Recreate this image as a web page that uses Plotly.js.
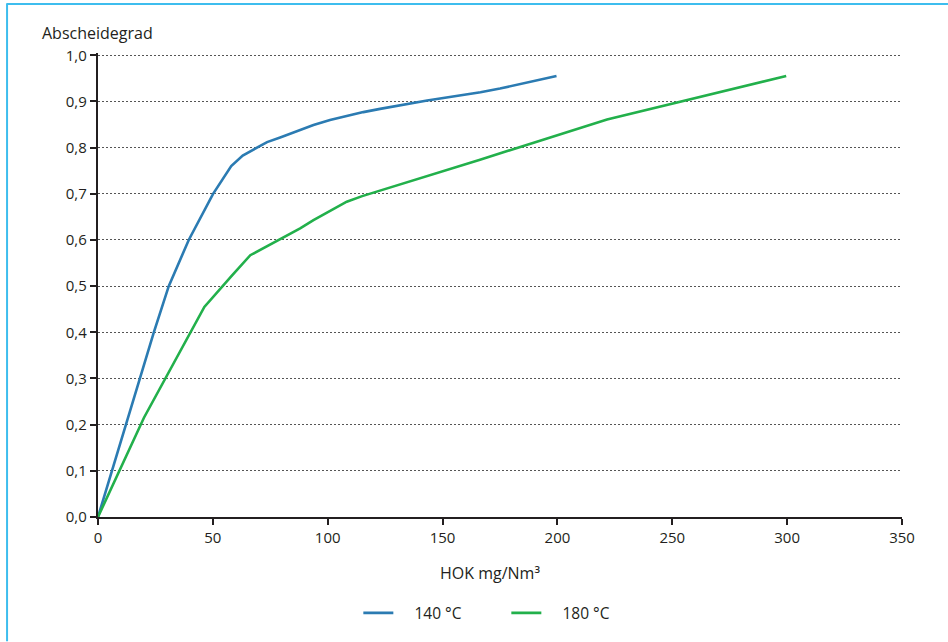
<!DOCTYPE html>
<html>
<head>
<meta charset="utf-8">
<script src="https://cdn.plot.ly/plotly-3.0.1.min.js"></script>
<style>html,body{margin:0;padding:0;background:#fff;}#chart{width:948px;height:642px;}</style>
</head>
<body>
<div id="chart"></div>
<script>
// Data
const seriesNames = ["140 °C", "180 °C"];
const x140 = [0, 24.3, 30.8, 39.5, 50.1, 58, 63, 69.2, 73.6, 79.3, 88, 93.8, 101, 108.3, 115.5, 122.8, 143.3, 166.5, 175, 199.6];
const y140 = [0, 0.40, 0.50, 0.60, 0.70, 0.76, 0.783, 0.80, 0.812, 0.822, 0.838, 0.849, 0.860, 0.869, 0.877, 0.884, 0.902, 0.920, 0.928, 0.955];
const x180 = [0, 20, 46.3, 54, 57.8, 66.3, 78.6, 88, 93.8, 108.3, 115, 166.3, 221.6, 299.6];
const y180 = [0, 0.215, 0.455, 0.50, 0.52, 0.567, 0.60, 0.625, 0.643, 0.683, 0.695, 0.774, 0.861, 0.955];
const yTicks = [0, 0.1, 0.2, 0.3, 0.4, 0.5, 0.6, 0.7, 0.8, 0.9, 1.0];
const xTicks = [0, 50, 100, 150, 200, 250, 300, 350];
const yTitle = "Abscheidegrad";
const xTitle = "HOK mg/Nm³";

const FONT = "Open Sans, Noto Sans, sans-serif";
const TXT = "#231f20";
const W = 948, H = 642;
const YMAX = 1.005;
const L = 97.5, R = 902, B = 517.5, T = 55 - (YMAX - 1) * 462.5;
const px = v => (v - L) / (R - L);
const py = v => (B - v) / (B - T);

const traces = [
  {x: x140, y: y140, name: "\u00a0\u00a0\u00a0\u00a0" + seriesNames[0], type: "scatter", mode: "lines",
   line: {color: "#2b7bb2", width: 2.6}},
  {x: x180, y: y180, name: "\u00a0\u00a0\u00a0\u00a0" + seriesNames[1], type: "scatter", mode: "lines",
   line: {color: "#22b04b", width: 2.6}}
];

const layout = {
  width: W, height: H,
  margin: {l: L, r: W - R, t: T, b: H - B},
  paper_bgcolor: "#fff", plot_bgcolor: "#fff",
  font: {family: FONT, size: 15, color: TXT},
  separators: ",.",
  showlegend: true,
  legend: {orientation: "h", x: px(358), xanchor: "left", y: py(614), yanchor: "middle",
           font: {family: FONT, size: 15.5, color: TXT}, entrywidth: 103, entrywidthmode: "pixels",
           bgcolor: "rgba(0,0,0,0)"},
  xaxis: {range: [0, 350], tickvals: xTicks, ticktext: xTicks.map(String),
          showgrid: false, zeroline: false, showline: true, linecolor: TXT, linewidth: 2.2,
          ticks: "outside", ticklen: 6, tickwidth: 2, tickcolor: TXT,
          tickfont: {family: FONT, size: 15, color: TXT}, fixedrange: true},
  yaxis: {range: [0, YMAX], tickvals: yTicks, tickformat: ".1f",
          showgrid: true, gridcolor: "#555", gridwidth: 1, griddash: "2px,2px",
          zeroline: false, showline: true, linecolor: TXT, linewidth: 2.2,
          ticks: "outside", ticklen: 6, tickwidth: 2, tickcolor: TXT,
          tickfont: {family: FONT, size: 15, color: TXT}, fixedrange: true},
  annotations: [
    {text: yTitle, xref: "paper", yref: "paper", x: px(39), y: py(33), xanchor: "left", yanchor: "middle",
     showarrow: false, font: {family: FONT, size: 16, color: TXT}},
    {text: xTitle, xref: "paper", yref: "paper", x: px(490), y: py(574), xanchor: "center", yanchor: "middle",
     showarrow: false, font: {family: FONT, size: 16, color: TXT}}
  ],
  shapes: [
    {type: "line", xref: "paper", yref: "paper", x0: px(6), x1: px(948), y0: py(3.5), y1: py(3.5),
     line: {color: "#3dbdee", width: 2}},
    {type: "line", xref: "paper", yref: "paper", x0: px(6.5), x1: px(6.5), y0: py(3), y1: py(642),
     line: {color: "#3dbdee", width: 2}}
  ]
};

Plotly.newPlot("chart", traces, layout, {displayModeBar: false, staticPlot: true});
</script>
</body>
</html>
